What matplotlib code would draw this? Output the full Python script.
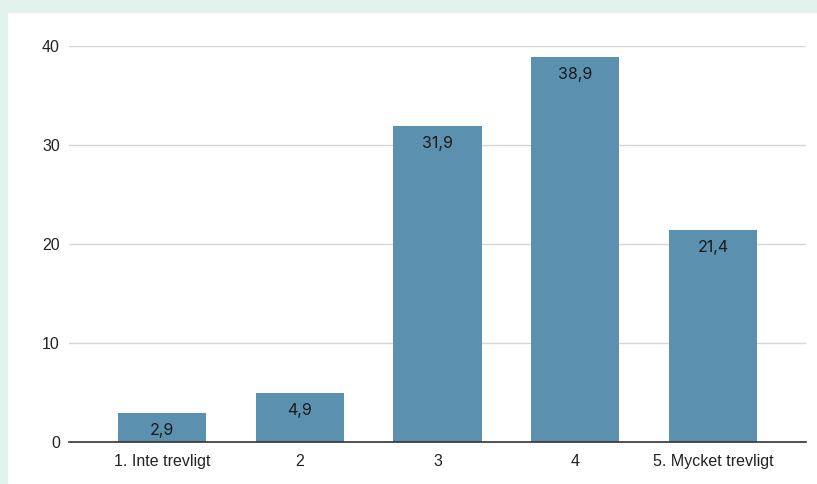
import matplotlib.pyplot as plt
from matplotlib.patches import Rectangle

categories = ["1. Inte trevligt", "2", "3", "4", "5. Mycket trevligt"]
values = [2.9, 4.9, 31.9, 38.9, 21.4]
yticks = [0, 10, 20, 30, 40]

fig = plt.figure(figsize=(8.17, 4.84), dpi=100, facecolor="#e2f2ec")
panel = Rectangle((8 / 817, 0), 1, 1 - 13 / 484, transform=fig.transFigure,
                  facecolor="white", edgecolor="none", zorder=-10)
fig.add_artist(panel)

ax = fig.add_axes([69 / 817, 42 / 484, 737 / 817, 396 / 484])
ax.set_zorder(1)
ax.set_facecolor("none")
x = list(range(len(categories)))
bars = ax.bar(x, values, width=0.64, color="#5b91ae", zorder=3)
for xi, v in zip(x, values):
    ax.annotate(f"{v:.1f}".replace(".", ","), (xi, v), xytext=(0, -12.5),
                textcoords="offset points", ha="center", va="center",
                fontsize=11.5, family="Inter", color="#1a1a1a", zorder=4)

ax.set_xlim(-0.675, 4.675)
ax.set_ylim(0, 40)
ax.set_yticks(yticks)
ax.set_xticks(x)
ax.set_xticklabels(categories)
ax.grid(axis="y", color="#d6d6d6", lw=1, zorder=0)
for s in ["top", "right", "left"]:
    ax.spines[s].set_visible(False)
ax.spines["bottom"].set_color("#333333")
ax.spines["bottom"].set_linewidth(1.2)
ax.spines["bottom"].set_zorder(5)
ax.tick_params(axis="y", length=0, pad=6.5, labelsize=11.5, labelcolor="#222222")
ax.tick_params(axis="x", length=0, pad=8.5, labelsize=11.5, labelcolor="#222222")
for lab in ax.get_xticklabels() + ax.get_yticklabels():
    lab.set_family("Liberation Sans")

fig.savefig("out.png", dpi=100, facecolor=fig.get_facecolor())
